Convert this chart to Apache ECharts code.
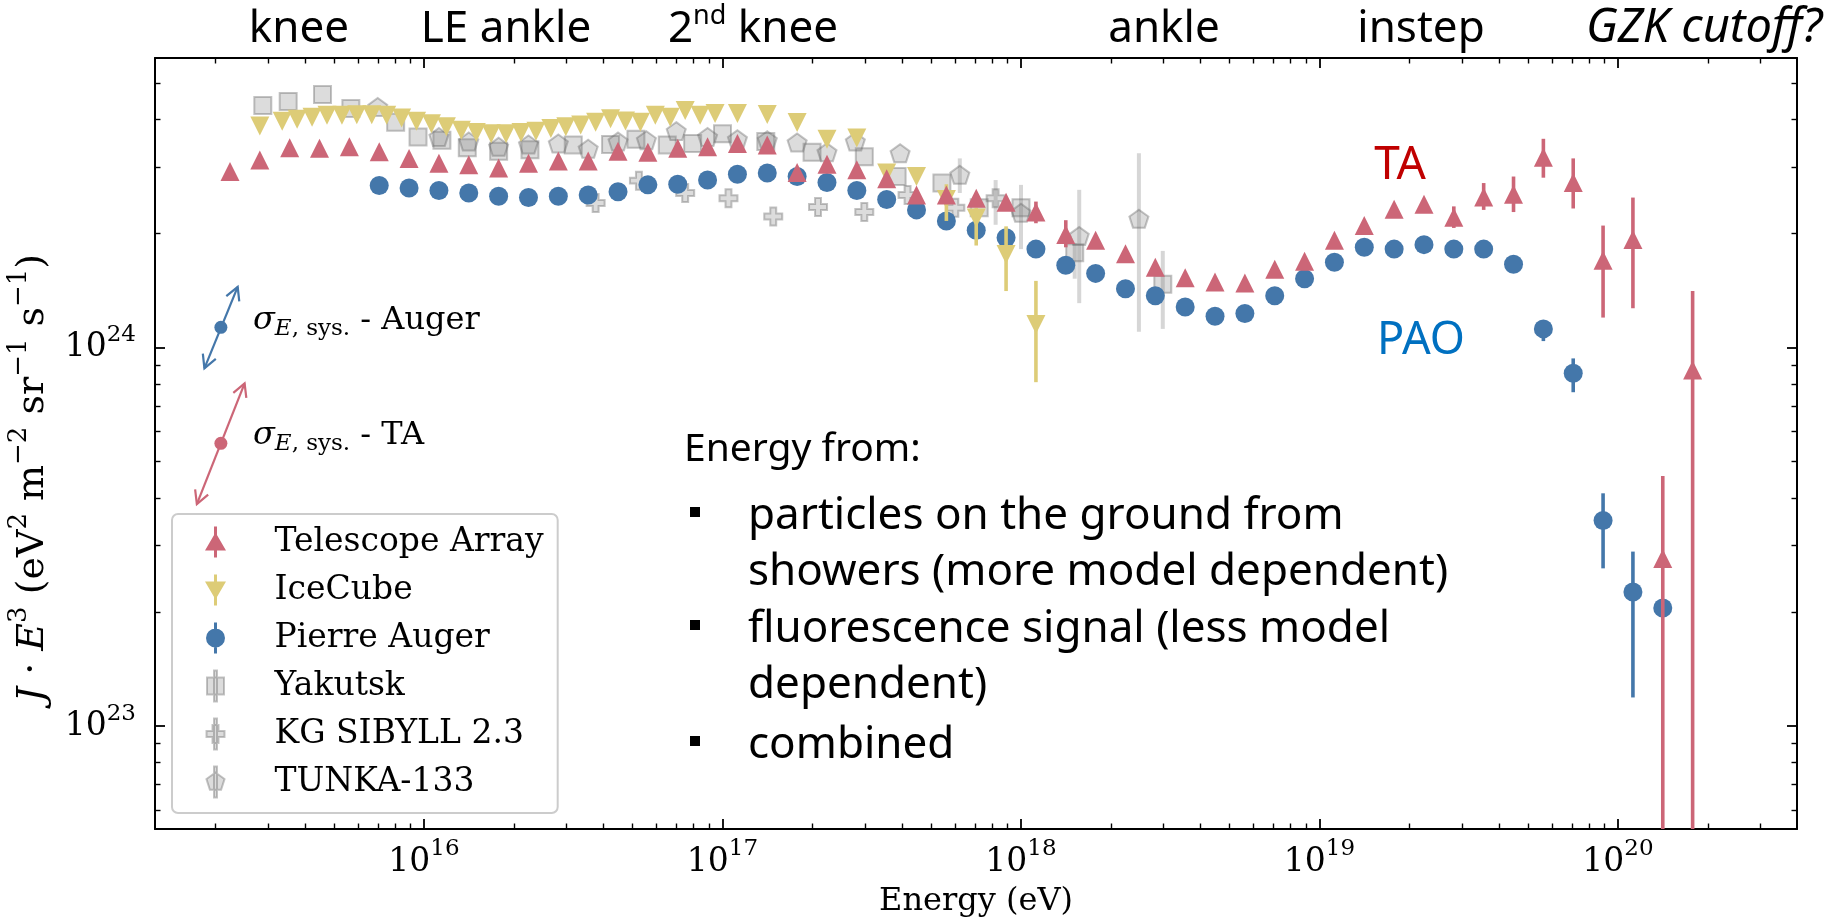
<!DOCTYPE html>
<html>
<head>
<meta charset="utf-8">
<title>Cosmic-ray energy spectrum</title>
<script src="https://cdn.jsdelivr.net/npm/echarts@6/dist/echarts.min.js"></script>
<style>
  html, body { margin: 0; padding: 0; background: #ffffff; }
  #chart { width: 1834px; height: 920px; }
</style>
</head>
<body>
<div id="chart"></div>
<script>
// ---------------------------------------------------------------------------
// Data: log10(E / eV) and flux J·E^3 in units of 1e24 eV^2 m^-2 sr^-1 s^-1
// ---------------------------------------------------------------------------
const taLogE = [15.35, 15.45, 15.55, 15.65, 15.75, 15.85, 15.95, 16.05, 16.15, 16.25,
                16.35, 16.45, 16.55, 16.65, 16.75, 16.85, 16.95, 17.05, 17.15, 17.25,
                17.35, 17.45, 17.55, 17.65, 17.75, 17.85, 17.95, 18.05, 18.15, 18.25,
                18.35, 18.45, 18.55, 18.65, 18.75, 18.85, 18.95, 19.05, 19.15, 19.25,
                19.35, 19.45, 19.55, 19.65, 19.75, 19.85, 19.95, 20.05, 20.15, 20.25];
const taFlux = [2.92, 3.13, 3.37, 3.36, 3.39, 3.29, 3.16, 3.07, 3.04, 2.98,
                3.07, 3.11, 3.11, 3.30, 3.28, 3.36, 3.39, 3.46, 3.43, 2.90,
                3.05, 2.95, 2.79, 2.53, 2.53, 2.48, 2.42, 2.28, 1.99, 1.92,
                1.77, 1.63, 1.53, 1.49, 1.48, 1.61, 1.69, 1.92, 2.10, 2.32,
                2.39, 2.21, 2.50, 2.54, 3.18, 2.73, 1.70, 1.93, 0.277, 0.872];
const taErrLogE = [18.05, 18.15, 19.45, 19.55, 19.65, 19.75, 19.85, 19.95, 20.05, 20.15, 20.25];
const taErrLow  = [2.13, 1.84, 2.07, 2.31, 2.28, 2.81, 2.33, 1.20, 1.27, 0.001, 0.001];
const taErrHigh = [2.43, 2.17, 2.36, 2.72, 2.83, 3.56, 3.16, 2.10, 2.49, 0.458, 1.41];

const paoLogE = [15.85, 15.95, 16.05, 16.15, 16.25, 16.35, 16.45, 16.55, 16.65, 16.75,
                 16.85, 16.95, 17.05, 17.15, 17.25, 17.35, 17.45, 17.55, 17.65, 17.75,
                 17.85, 17.95, 18.05, 18.15, 18.25, 18.35, 18.45, 18.55, 18.65, 18.75,
                 18.85, 18.95, 19.05, 19.15, 19.25, 19.35, 19.45, 19.55, 19.65, 19.75,
                 19.85, 19.95, 20.05, 20.15];
const paoFlux = [2.68, 2.64, 2.60, 2.56, 2.51, 2.49, 2.51, 2.53, 2.58, 2.69,
                 2.70, 2.77, 2.87, 2.89, 2.83, 2.73, 2.60, 2.46, 2.31, 2.16,
                 2.04, 1.95, 1.82, 1.65, 1.57, 1.43, 1.37, 1.28, 1.21, 1.23,
                 1.37, 1.52, 1.68, 1.84, 1.82, 1.87, 1.82, 1.82, 1.66, 1.12,
                 0.855, 0.349, 0.226, 0.205];
const paoErrLogE = [19.75, 19.85, 19.95, 20.05];
const paoErrLow  = [1.04, 0.762, 0.261, 0.119];
const paoErrHigh = [1.18, 0.936, 0.412, 0.289];

const iceLogE = [15.45, 15.525, 15.575, 15.625, 15.675, 15.725, 15.775, 15.825, 15.875, 15.925,
                 15.975, 16.025, 16.075, 16.125, 16.175, 16.225, 16.275, 16.325, 16.375, 16.425,
                 16.475, 16.525, 16.575, 16.625, 16.675, 16.725, 16.775, 16.825, 16.875, 16.925,
                 16.975, 17.05, 17.15, 17.25, 17.35, 17.45, 17.55, 17.65, 17.75, 17.85,
                 17.95, 18.05];
const iceFlux = [3.85, 3.96, 4.01, 4.06, 4.11, 4.11, 4.12, 4.12, 4.11, 4.04,
                 3.96, 3.90, 3.83, 3.75, 3.70, 3.67, 3.67, 3.70, 3.73, 3.79,
                 3.83, 3.87, 3.94, 4.02, 3.97, 3.94, 4.11, 4.06, 4.23, 4.11,
                 4.15, 4.15, 4.13, 3.93, 3.55, 3.58, 2.89, 2.83, 2.46, 2.20,
                 1.76, 1.15];
const iceErrLogE = [17.75, 17.85, 17.95, 18.05];
const iceErrLow  = [2.16, 1.86, 1.41, 0.81];
const iceErrHigh = [2.70, 2.34, 2.09, 1.50];

const yakLogE = [15.46, 15.545, 15.66, 15.755, 15.905, 15.98, 16.06, 16.145, 16.25, 16.355,
                 16.5, 16.625, 16.71, 16.815, 16.9, 17.0, 17.145, 17.3, 17.475, 17.585,
                 17.735, 17.86, 18.0, 18.18, 18.475];
const yakFlux = [4.36, 4.47, 4.66, 4.28, 3.94, 3.60, 3.53, 3.37, 3.30, 3.33,
                 3.43, 3.44, 3.55, 3.43, 3.46, 3.67, 3.50, 3.28, 3.19, 2.83,
                 2.72, 2.34, 2.34, 1.78, 1.47];
const yakErrLogE = [18.0, 18.18, 18.475];
const yakErrLow  = [1.82, 1.52, 1.12];
const yakErrHigh = [2.69, 1.89, 1.80];

const kgLogE = [16.575, 16.72, 16.875, 17.02, 17.17, 17.32, 17.475, 17.62, 17.78, 17.915];
const kgFlux = [2.41, 2.76, 2.56, 2.48, 2.22, 2.35, 2.28, 2.53, 2.34, 2.48];
const kgErrLogE = [17.915];
const kgErrLow  = [2.11];
const kgErrHigh = [2.77];

const tunLogE = [15.845, 16.05, 16.15, 16.25, 16.35, 16.45, 16.55, 16.65, 16.745, 16.845,
                 16.95, 17.05, 17.15, 17.25, 17.35, 17.445, 17.595, 17.795, 18.0, 18.195,
                 18.395];
const tunFlux = [4.32, 3.60, 3.50, 3.39, 3.44, 3.46, 3.35, 3.50, 3.53, 3.73,
                 3.60, 3.55, 3.53, 3.48, 3.28, 3.50, 3.26, 2.86, 2.27, 1.97,
                 2.19];
const tunErrLogE = [17.795, 18.195, 18.395];
const tunErrLow  = [2.56, 1.31, 1.10];
const tunErrHigh = [3.16, 2.61, 3.26];

// Energy-scale systematic arrows: [E, J] at centre and both ends
const sysAugerCenter = [2.087e15, 1.131e24];
const sysAugerLow    = [1.838e15, 8.81e23];
const sysAugerHigh   = [2.376e15, 1.447e24];
const sysTACenter    = [2.087e15, 5.583e23];
const sysTALow       = [1.734e15, 3.859e23];
const sysTAHigh      = [2.506e15, 8.045e23];

// Axis ranges and tick positions
const xMin = 1.2555e15, xMax = 3.978e20;
const yMin = 5.346e22,  yMax = 5.82e24;
const xMajor = [1e16, 1e17, 1e18, 1e19, 1e20];
const yMajor = [1e23, 1e24];
const minorSteps = [2, 3, 4, 5, 6, 7, 8, 9];
const xDecades = [1e15, 1e16, 1e17, 1e18, 1e19, 1e20];
const yDecades = [1e22, 1e23, 1e24];

// Text annotations
const seriesNames = ['Telescope Array', 'IceCube', 'Pierre Auger', 'Yakutsk', 'KG SIBYLL 2.3', 'TUNKA-133'];
const featureLabels = [
  { text: 'knee', x: 299 },
  { text: 'LE ankle', x: 506 },
  { text: '{t|2}{s|nd}{t| knee}', x: 753 },
  { text: 'ankle', x: 1164 },
  { text: 'instep', x: 1421 },
  { text: '{i|GZK cutoff?}', x: 1704 }
];
const noteTitle = 'Energy from:';
const noteLines = [
  { text: 'particles on the ground from', bullet: true },
  { text: 'showers (more model dependent)', bullet: false },
  { text: 'fluorescence signal (less model', bullet: true },
  { text: 'dependent)', bullet: false },
  { text: 'combined', bullet: true }
];

// ---------------------------------------------------------------------------
const SERIF = 'DejaVu Serif';
const SANS = 'Noto Sans';
const C_TA = '#cc6677', C_ICE = '#ddcc77', C_PAO = '#4477aa';
const C_GRAY_FILL = 'rgba(128,128,128,0.28)';
const C_GRAY_EDGE = 'rgba(100,100,100,0.38)';
const C_GRAY_BAR = 'rgba(128,128,128,0.32)';

const toE = l => Math.pow(10, l);
const points = (logE, flux) => logE.map((l, i) => [toE(l), flux[i] * 1e24]);
const bars = (logE, lo, hi) => logE.map((l, i) => [toE(l), lo[i] * 1e24, hi[i] * 1e24]);

function minorTicks(decades, lo, hi) {
  const out = [];
  decades.forEach(d => minorSteps.forEach(m => {
    const v = d * m;
    if (v > lo && v < hi) out.push(v);
  }));
  return out;
}
const xMinor = minorTicks(xDecades, xMin, xMax);
const yMinor = minorTicks(yDecades, yMin, yMax);

const powRich = {
  b: { fontFamily: SERIF, fontSize: 33, lineHeight: 48, color: '#000' },
  s: { fontFamily: SERIF, fontSize: 23, lineHeight: 22, verticalAlign: 'top', color: '#000' }
};
const powLabel = v => '{b|10}{s|' + Math.round(Math.log10(v)) + '}';

const X_RANGE = [xMin, xMax];
const Y_RANGE = [yMin, yMax];

function logAxis(range, position, major, withLine, withLabels) {
  const isX = range === X_RANGE;
  return {
    type: 'log', logBase: 10, min: range[0], max: range[1], position,
    splitLine: { show: false }, minorTick: { show: false }, minorSplitLine: { show: false },
    axisLine: { show: withLine, onZero: false, lineStyle: { color: '#000', width: 2 } },
    axisTick: {
      show: true, inside: true,
      length: major ? 10 : 5.5,
      lineStyle: { color: '#000', width: major ? 1.8 : 1.4 },
      customValues: major ? (isX ? xMajor : yMajor) : (isX ? xMinor : yMinor)
    },
    axisLabel: withLabels ? {
      show: true, margin: isX ? 9 : 19,
      customValues: isX ? xMajor : yMajor,
      formatter: powLabel, rich: powRich
    } : { show: false },
    axisPointer: { show: false },
    silent: true
  };
}

const xAxes = [
  Object.assign(logAxis(X_RANGE, 'bottom', true, true, true), {
    name: 'Energy (eV)', nameLocation: 'middle', nameGap: 57,
    nameTextStyle: { fontFamily: SERIF, fontSize: 32, color: '#000' }
  }),
  logAxis(X_RANGE, 'bottom', false, false, false),
  logAxis(X_RANGE, 'top', true, true, false),
  logAxis(X_RANGE, 'top', false, false, false)
];
const yAxes = [
  logAxis(Y_RANGE, 'left', true, true, true),
  logAxis(Y_RANGE, 'left', false, false, false),
  logAxis(Y_RANGE, 'right', true, true, false),
  logAxis(Y_RANGE, 'right', false, false, false)
];

function errorSeries(name, data, color, width, z) {
  return {
    type: 'custom', name, data, z, clip: true, silent: true,
    encode: { x: 0, y: [1, 2] },
    renderItem: (params, api) => {
      const x = api.value(0);
      const p1 = api.coord([x, api.value(1)]);
      const p2 = api.coord([x, api.value(2)]);
      return {
        type: 'line',
        shape: { x1: p1[0], y1: p1[1], x2: p2[0], y2: p2[1] },
        style: { stroke: color, lineWidth: width }
      };
    }
  };
}

function markerSeries(name, data, symbol, size, style, z, rotate) {
  return {
    type: 'scatter', name, data, z, symbol, symbolSize: size, symbolRotate: rotate || 0,
    itemStyle: Object.assign({ opacity: 1 }, style),
    emphasis: { disabled: true }, silent: true, clip: true
  };
}

const grayStyle = { color: C_GRAY_FILL, borderColor: C_GRAY_EDGE, borderWidth: 2 };
const PENTAGON = 'path://M0,-1L0.951,-0.309L0.588,0.809L-0.588,0.809L-0.951,-0.309Z';
const PLUS = 'path://M-0.33,-1H0.33V-0.33H1V0.33H0.33V1H-0.33V0.33H-1V-0.33H-0.33Z';

// Legend glyphs: marker with an error bar through it
const ICON_TA   = 'path://M9,0h3v31h-3z M10.5,6L21,24H0Z';
const ICON_ICE  = 'path://M9,0h3v31h-3z M0,7H21L10.5,25Z';
const ICON_PAO  = 'path://M9,0h3v31h-3z M10.5,6a9.5,9.5 0 1,1 0,19a9.5,9.5 0 1,1 0,-19Z';
const ICON_YAK  = 'path://M9,0h3v31h-3z M2,7h17v17h-17z';
const ICON_KG   = 'path://M9,0h3v31h-3z M7.5,6.5h6v6h6v6h-6v6h-6v-6h-6v-6h6z';
const ICON_TUN  = 'path://M9,0h3v31h-3z M10.5,6L19.535,12.564L16.084,23.186L4.916,23.186L1.465,12.564Z';
const legendIcons = [ICON_TA, ICON_ICE, ICON_PAO, ICON_YAK, ICON_KG, ICON_TUN];

const sysColors = [C_PAO, C_TA];
const sysData = [
  [sysAugerCenter[0], sysAugerCenter[1], sysAugerLow[0], sysAugerLow[1], sysAugerHigh[0], sysAugerHigh[1]],
  [sysTACenter[0], sysTACenter[1], sysTALow[0], sysTALow[1], sysTAHigh[0], sysTAHigh[1]]
];
function arrowHead(tip, from, color) {
  const dx = tip[0] - from[0], dy = tip[1] - from[1];
  const len = Math.hypot(dx, dy) || 1;
  const ux = dx / len, uy = dy / len;
  const hl = 13, hw = 7;
  return {
    type: 'polyline',
    shape: { points: [[tip[0] - hl * ux - hw * uy, tip[1] - hl * uy + hw * ux], tip,
                      [tip[0] - hl * ux + hw * uy, tip[1] - hl * uy - hw * ux]] },
    style: { stroke: color, lineWidth: 2.2, fill: 'none' }
  };
}
const sysSeries = {
  type: 'custom', name: 'energy systematics', data: sysData, z: 12, clip: false, silent: true,
  encode: { x: [0, 2, 4], y: [1, 3, 5] },
  renderItem: (params, api) => {
    const color = sysColors[params.dataIndex];
    const c = api.coord([api.value(0), api.value(1)]);
    const a = api.coord([api.value(2), api.value(3)]);
    const b = api.coord([api.value(4), api.value(5)]);
    return {
      type: 'group',
      children: [
        { type: 'line', shape: { x1: a[0], y1: a[1], x2: b[0], y2: b[1] }, style: { stroke: color, lineWidth: 2.2 } },
        arrowHead(a, b, color),
        arrowHead(b, a, color),
        { type: 'circle', shape: { cx: c[0], cy: c[1], r: 6.5 }, style: { fill: color } }
      ]
    };
  }
};

const series = [
  errorSeries('Yakutsk bars', bars(yakErrLogE, yakErrLow, yakErrHigh), C_GRAY_BAR, 4, 2),
  errorSeries('KG bars', bars(kgErrLogE, kgErrLow, kgErrHigh), C_GRAY_BAR, 4, 2),
  errorSeries('TUNKA bars', bars(tunErrLogE, tunErrLow, tunErrHigh), C_GRAY_BAR, 4, 2),
  markerSeries(seriesNames[3], points(yakLogE, yakFlux), 'rect', 17, grayStyle, 3),
  markerSeries(seriesNames[4], points(kgLogE, kgFlux), PLUS, 18, grayStyle, 3),
  markerSeries(seriesNames[5], points(tunLogE, tunFlux), PENTAGON, [19, 18], grayStyle, 3),
  errorSeries('Auger bars', bars(paoErrLogE, paoErrLow, paoErrHigh), C_PAO, 3.6, 4),
  markerSeries(seriesNames[2], points(paoLogE, paoFlux), 'circle', 19, { color: C_PAO }, 5),
  errorSeries('IceCube bars', bars(iceErrLogE, iceErrLow, iceErrHigh), C_ICE, 3.6, 6),
  markerSeries(seriesNames[1], points(iceLogE, iceFlux), 'triangle', 19, { color: C_ICE }, 7, 180),
  errorSeries('TA bars', bars(taErrLogE, taErrLow, taErrHigh), C_TA, 3.6, 8),
  markerSeries(seriesNames[0], points(taLogE, taFlux), 'triangle', 19, { color: C_TA }, 9),
  sysSeries
];

// ---------------------------------------------------------------------------
// Free-standing text: feature names, axis title, systematics, note box
// ---------------------------------------------------------------------------
const graphics = [];
const annRich = {
  t: { fontFamily: SANS, fontSize: 44, lineHeight: 52, color: '#000' },
  s: { fontFamily: SANS, fontSize: 27, lineHeight: 22, verticalAlign: 'top', color: '#000' },
  i: { fontFamily: SANS, fontSize: 47, lineHeight: 52, fontStyle: 'italic', color: '#000' }
};
featureLabels.forEach(f => {
  const txt = f.text.indexOf('{') === 0 ? f.text : '{t|' + f.text + '}';
  graphics.push({
    type: 'text', x: f.x, y: 29, silent: true,
    style: { text: txt, rich: annRich, align: 'center', verticalAlign: 'middle',
             textAlign: 'center', textVerticalAlign: 'middle' }
  });
});

graphics.push({
  type: 'text', x: 33, y: 478, rotation: Math.PI / 2, silent: true,
  style: {
    text: '{i|J}{r| · }{i|E}{s|3}{r| (eV}{s|2}{r| m}{s|−2}{r| sr}{s|−1}{r| s}{s|−1}{r|)}',
    align: 'center', verticalAlign: 'middle', textAlign: 'center', textVerticalAlign: 'middle',
    rich: {
      r: { fontFamily: SERIF, fontSize: 38, lineHeight: 54, color: '#000' },
      i: { fontFamily: SERIF, fontSize: 38, lineHeight: 54, fontStyle: 'italic', color: '#000' },
      s: { fontFamily: SERIF, fontSize: 26, lineHeight: 26, verticalAlign: 'top', color: '#000' }
    }
  }
});

function sysLabel(name, color, y) {
  return {
    type: 'text', x: 253, y, silent: true,
    style: {
      text: '{g|σ}{e|E}{u|, sys.}{r| - ' + name + '}',
      align: 'left', verticalAlign: 'middle', textAlign: 'left', textVerticalAlign: 'middle',
      rich: {
        g: { fontFamily: SERIF, fontSize: 32, lineHeight: 40, fontStyle: 'italic', color },
        e: { fontFamily: SERIF, fontSize: 23, lineHeight: 22, fontStyle: 'italic', verticalAlign: 'bottom', color },
        u: { fontFamily: SERIF, fontSize: 23, lineHeight: 22, verticalAlign: 'bottom', color },
        r: { fontFamily: SERIF, fontSize: 32, lineHeight: 40, color }
      }
    }
  };
}
graphics.push(sysLabel('Auger', C_PAO, 321));
graphics.push(sysLabel('TA', C_TA, 436));

graphics.push({
  type: 'text', x: 1400, y: 166, silent: true,
  style: { text: 'TA', fill: '#c00000', fontFamily: SANS, fontSize: 46,
           align: 'center', verticalAlign: 'middle', textAlign: 'center', textVerticalAlign: 'middle' }
});
graphics.push({
  type: 'text', x: 1421, y: 341, silent: true,
  style: { text: 'PAO', fill: '#0070c0', fontFamily: SANS, fontSize: 45,
           align: 'center', verticalAlign: 'middle', textAlign: 'center', textVerticalAlign: 'middle' }
});

graphics.push({
  type: 'text', x: 684, y: 450, silent: true,
  style: { text: noteTitle, fill: '#000', fontFamily: SANS, fontSize: 39,
           align: 'left', verticalAlign: 'middle', textAlign: 'left', textVerticalAlign: 'middle' }
});
const noteY = [516, 572, 629, 685, 745];
noteLines.forEach((ln, k) => {
  graphics.push({
    type: 'text', x: 748, y: noteY[k], silent: true,
    style: { text: ln.text, fill: '#000', fontFamily: SANS, fontSize: 44,
             align: 'left', verticalAlign: 'middle', textAlign: 'left', textVerticalAlign: 'middle' }
  });
  if (ln.bullet) {
    graphics.push({
      type: 'rect', silent: true,
      shape: { x: 690, y: noteY[k] - 9, width: 10, height: 10 },
      style: { fill: '#000' }
    });
  }
});

// ---------------------------------------------------------------------------
const chart = echarts.init(document.getElementById('chart'), null, { renderer: 'canvas' });
chart.setOption({
  animation: false,
  backgroundColor: '#ffffff',
  textStyle: { fontFamily: SERIF },
  grid: { left: 155, top: 58, width: 1642, height: 771, containLabel: false, outerBoundsMode: 'none' },
  xAxis: xAxes,
  yAxis: yAxes,
  legend: {
    show: true, orient: 'vertical', left: 172, top: 514,
    data: seriesNames.map((n, i) => ({ name: n, icon: legendIcons[i] })),
    itemWidth: 26, itemHeight: 31, itemGap: 10,
    padding: [9, 14, 12, 33],
    backgroundColor: 'rgba(255,255,255,0.85)',
    borderColor: '#cccccc', borderWidth: 2, borderRadius: 6,
    selectedMode: false,
    textStyle: { fontFamily: SERIF, fontSize: 33, color: '#000', lineHeight: 38, padding: [0, 0, 0, 41] }
  },
  tooltip: { show: false },
  series,
  graphic: { elements: graphics }
});
</script>
</body>
</html>
